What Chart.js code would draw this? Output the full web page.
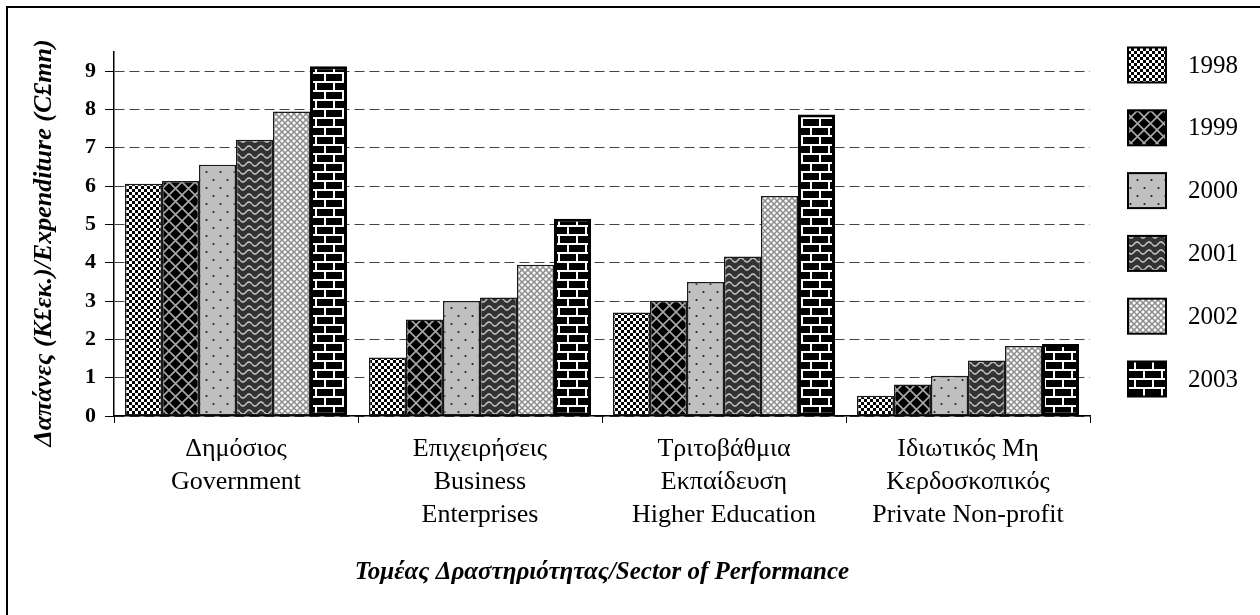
<!DOCTYPE html>
<html>
<head>
<meta charset="utf-8">
<script src="https://cdn.jsdelivr.net/npm/chart.js@4.4.1/dist/chart.umd.min.js"></script>
<style>
  html, body { margin: 0; padding: 0; background: #fff; }
  #wrap { width: 1260px; height: 615px; }
</style>
</head>
<body>
<div id="wrap"><canvas id="rd"></canvas></div>
<script>
// ----------------------------------------------------------------------
// data
// ----------------------------------------------------------------------
const SECTORS = [
  ['Δημόσιος', 'Government'],
  ['Επιχειρήσεις', 'Business', 'Enterprises'],
  ['Τριτοβάθμια', 'Εκπαίδευση', 'Higher Education'],
  ['Ιδιωτικός Μη', 'Κερδοσκοπικός', 'Private Non-profit']
];
const YEARS = ['1998', '1999', '2000', '2001', '2002', '2003'];

const V1998 = [6.06, 1.53, 2.70, 0.53];
const V1999 = [6.13, 2.52, 3.01, 0.82];
const V2000 = [6.56, 3.00, 3.50, 1.05];
const V2001 = [7.21, 3.09, 4.16, 1.45];
const V2002 = [7.95, 3.95, 5.74, 1.83];
const V2003 = [9.13, 5.15, 7.87, 1.88];

const Y_TITLE = 'Δαπάνες (Κ£εκ.)/Expenditure (C£mn)';
const X_TITLE = 'Τομέας Δραστηριότητας/Sector of Performance';

const SERIF = "'Liberation Serif', 'Times New Roman', serif";

// ----------------------------------------------------------------------
// fill patterns (excel style hatching)
// ----------------------------------------------------------------------
function tile(w, h, draw) {
  const c = document.createElement('canvas');
  c.width = w; c.height = h;
  const g = c.getContext('2d');
  draw(g, w, h);
  return g.createPattern(c, 'repeat');
}

const PATTERNS = [
  // 1998 checker
  tile(6, 6, g => {
    g.fillStyle = '#000'; g.fillRect(0, 0, 6, 6);
    g.fillStyle = '#fff'; g.fillRect(0, 0, 3, 3); g.fillRect(3, 3, 3, 3);
  }),
  // 1999 black with grey lattice
  tile(13, 13, g => {
    g.fillStyle = '#000'; g.fillRect(0, 0, 13, 13);
    g.strokeStyle = '#a8a8a8'; g.lineWidth = 1.6;
    g.beginPath();
    g.moveTo(-1, -1); g.lineTo(14, 14);
    g.moveTo(14, -1); g.lineTo(-1, 14);
    g.stroke();
  }),
  // 2000 grey with dots
  tile(14, 16, g => {
    g.fillStyle = '#c0c0c0'; g.fillRect(0, 0, 14, 16);
    g.fillStyle = '#222';
    g.beginPath(); g.arc(3.5, 4, 1.1, 0, Math.PI * 2); g.fill();
    g.beginPath(); g.arc(10.5, 12, 1.1, 0, Math.PI * 2); g.fill();
  }),
  // 2001 dark with waves
  tile(12, 8, g => {
    g.fillStyle = '#333'; g.fillRect(0, 0, 12, 8);
    g.strokeStyle = '#c8c8c8'; g.lineWidth = 1.5;
    g.beginPath();
    for (let x = 0; x <= 12; x += 0.5) {
      const y = 4 + 2 * Math.sin(x / 12 * Math.PI * 2);
      if (x === 0) g.moveTo(x, y); else g.lineTo(x, y);
    }
    g.stroke();
  }),
  // 2002 light grey diamonds
  tile(6, 6, g => {
    g.fillStyle = '#fafafa'; g.fillRect(0, 0, 6, 6);
    g.strokeStyle = '#8c8c8c'; g.lineWidth = 1.5;
    g.beginPath();
    g.moveTo(-1, -1); g.lineTo(7, 7);
    g.moveTo(7, -1); g.lineTo(-1, 7);
    g.stroke();
  }),
  // 2003 bricks
  tile(18, 18, g => {
    g.fillStyle = '#000'; g.fillRect(0, 0, 18, 18);
    g.fillStyle = '#fff';
    g.fillRect(0, 0, 18, 2);
    g.fillRect(0, 9, 18, 2);
    g.fillRect(0, 0, 2, 9);
    g.fillRect(9, 9, 2, 9);
  })
];

const VALUES = [V1998, V1999, V2000, V2001, V2002, V2003];

const datasets = YEARS.map((yr, i) => ({
  label: yr,
  data: VALUES[i],
  backgroundColor: PATTERNS[i],
  borderColor: i === 5 ? '#000' : '#1a1a1a',
  borderWidth: i === 5 ? 3 : 1.5,
  borderSkipped: false,
  categoryPercentage: 0.91,
  barPercentage: 1
}));

// ----------------------------------------------------------------------
// custom drawing: frame, titles, legend
// ----------------------------------------------------------------------
const decorPlugin = {
  id: 'decor',
  afterDraw(chart) {
    const ctx = chart.ctx;
    const area = chart.chartArea;
    ctx.save();

    // outer frame (only top/left visible)
    ctx.strokeStyle = '#000';
    ctx.lineWidth = 2;
    ctx.beginPath();
    ctx.moveTo(7, 620); ctx.lineTo(7, 7); ctx.lineTo(1270, 7);
    ctx.stroke();

    // y title
    ctx.fillStyle = '#000';
    ctx.font = `italic bold 26px ${SERIF}`;
    ctx.textAlign = 'center';
    ctx.textBaseline = 'middle';
    ctx.save();
    ctx.translate(44, 243);
    ctx.rotate(-Math.PI / 2);
    ctx.fillText(Y_TITLE, 0, 0);
    ctx.restore();

    // x title
    ctx.font = `italic bold 25px ${SERIF}`;
    ctx.fillText(X_TITLE, (area.left + area.right) / 2, 573);

    // legend
    const boxL = 1128, boxW = 38, boxH = 35;
    ctx.font = `25px ${SERIF}`;
    ctx.textAlign = 'left';
    chart.data.datasets.forEach((ds, i) => {
      const cy = 65 + i * 62.8;
      ctx.fillStyle = ds.backgroundColor;
      ctx.fillRect(boxL, cy - boxH / 2, boxW, boxH);
      ctx.strokeStyle = '#000';
      ctx.lineWidth = 2;
      ctx.strokeRect(boxL, cy - boxH / 2, boxW, boxH);
      ctx.fillStyle = '#000';
      ctx.fillText(ds.label, 1188, cy + 1);
    });

    ctx.restore();
  }
};

// ----------------------------------------------------------------------
// chart
// ----------------------------------------------------------------------
new Chart(document.getElementById('rd'), {
  type: 'bar',
  data: { labels: SECTORS, datasets },
  plugins: [decorPlugin],
  options: {
    responsive: true,
    maintainAspectRatio: false,
    animation: false,
    layout: { padding: { top: 52, right: 170, left: 0, bottom: 0 } },
    plugins: {
      legend: { display: false },
      tooltip: { enabled: false }
    },
    scales: {
      x: {
        grid: { display: true, drawOnChartArea: false, offset: true, color: '#000', tickLength: 7, lineWidth: 1 },
        border: { display: true, color: '#000', width: 1.5 },
        ticks: {
          color: '#000',
          padding: 10,
          maxRotation: 0,
          autoSkip: false,
          font: { family: SERIF, size: 26, lineHeight: '33px' }
        },
        afterFit(s) { s.height = 199; }
      },
      y: {
        min: 0,
        max: 9.5,
        grid: {
          color: '#444',
          lineWidth: 1,
          tickLength: 9,
          tickColor: '#000',
          tickBorderDash: [],
          drawOnChartArea: true
        },
        border: { display: true, color: '#000', width: 1.5, dash: [10, 5] },
        ticks: {
          stepSize: 1,
          includeBounds: false,
          color: '#000',
          padding: 9,
          font: { family: SERIF, size: 22, weight: 'bold' }
        },
        afterFit(s) { s.width = 114; }
      }
    }
  }
});
</script>
</body>
</html>
